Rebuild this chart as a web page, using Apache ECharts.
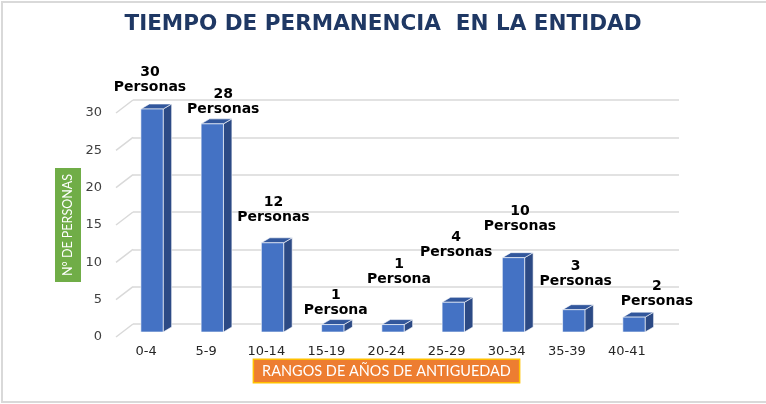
<!DOCTYPE html>
<html>
<head>
<meta charset="utf-8">
<script src="https://cdn.jsdelivr.net/npm/echarts@6/dist/echarts.min.js"></script>
<style>html,body{margin:0;padding:0;background:#fff}#chart{width:766px;height:404px}</style>
</head>
<body>
<div id="chart"></div>
<script>
const titleText = 'TIEMPO DE PERMANENCIA  EN LA ENTIDAD';
const categories = ['0-4', '5-9', '10-14', '15-19', '20-24', '25-29', '30-34', '35-39', '40-41'];
const personas = [30, 28, 12, 1, 1, 4, 10, 3, 2];
const yTicks = [0, 5, 10, 15, 20, 25, 30];
const xAxisName = 'RANGOS DE AÑOS DE ANTIGUEDAD';
const yAxisName = 'N° DE PERSONAS';

// label placement (pixel shifts relative to each bar's top centre), style only
const labelShift = [[-2, -29.5], [11, -22], [1, -32.5], [3, -22], [6, -52.5], [3, -57], [6.5, -38.5], [2, -35.5], [23, -23]];

const DX = 8.5, DY = -5;      // 3D depth of bars
const WALL_DX = 17, WALL_DY = -13; // depth of back wall

const chart = echarts.init(document.getElementById('chart'), null, {renderer: 'canvas'});

const option = {
  animation: false,
  backgroundColor: '#fff',
  title: {
    text: titleText,
    left: 'center',
    top: 13,
    padding: 0,
    textStyle: {fontFamily: 'DejaVu Sans', fontWeight: 'bold', fontSize: 21.5, color: '#1F3864'}
  },
  graphic: [{
    type: 'rect', silent: true, z: -10,
    shape: {x: 2, y: 2, width: 780, height: 400},
    style: {fill: 'none', stroke: '#D9D9D9', lineWidth: 2}
  }],
  grid: [
    {left: 121.9, right: 101.9, top: 109, bottom: 72},   // bars
    {left: 133, right: 87, top: 100, bottom: 80},          // back wall
    {left: 116, right: 109, top: 113, bottom: 67}          // front plane (labels)
  ],
  xAxis: [
    {gridIndex: 0, type: 'category', data: categories, show: false},
    {gridIndex: 1, type: 'category', data: categories, show: false},
    {gridIndex: 2, type: 'category', data: categories,
     axisLine: {show: false}, axisTick: {show: false},
     axisLabel: {margin: 8, fontFamily: 'DejaVu Sans', fontSize: 13, color: '#262626'},
     name: xAxisName, nameLocation: 'middle', nameGap: 23, nameMoveOverlap: false,
     nameTextStyle: {fontFamily: 'Lato', fontSize: 14.5, lineHeight: 17, color: '#fff', backgroundColor: '#ED7D31',
       borderColor: '#FFC000', borderWidth: 1.5, padding: [3, 8, 2, 8]}}
  ],
  yAxis: [
    {gridIndex: 0, type: 'value', min: 0, max: 30, interval: 5, show: false},
    {gridIndex: 1, type: 'value', min: 0, max: 30, interval: 5,
     axisLine: {show: false}, axisTick: {show: false}, axisLabel: {show: false},
     splitLine: {show: true, lineStyle: {color: '#D9D9D9', width: 1.5}}},
    {gridIndex: 2, type: 'value', min: 0, max: 30, interval: 5,
     axisLine: {show: false}, axisTick: {show: false}, splitLine: {show: false},
     axisLabel: {margin: 14, fontFamily: 'DejaVu Sans', fontSize: 13, color: '#404040'},
     name: yAxisName, nameLocation: 'middle', nameRotate: 90, nameGap: 35, nameMoveOverlap: false,
     nameTextStyle: {fontFamily: 'Lato', fontSize: 12.5, lineHeight: 14, color: '#fff', backgroundColor: '#70AD47',
       padding: [6, 6, 6, 6]}}
  ],
  series: [
    {
      type: 'custom', xAxisIndex: 2, yAxisIndex: 2, z: 1, silent: true,
      data: yTicks.map(t => [0, t]),
      renderItem: function (params, api) {
        const p = api.coord([0, api.value(1)]);
        const x0 = params.coordSys.x;
        return {type: 'line', shape: {x1: x0, y1: p[1], x2: x0 + WALL_DX, y2: p[1] + WALL_DY},
                style: {stroke: '#D9D9D9', lineWidth: 1.5}};
      }
    },
    {
      type: 'custom', xAxisIndex: 0, yAxisIndex: 0, z: 5,
      data: personas.map((v, i) => [i, v]),
      renderItem: function (params, api) {
        const i = api.value(0), v = api.value(1);
        const top = api.coord([i, v]);
        const base = api.coord([i, 0]);
        const band = api.size([1, 0])[0];
        const w = band * 0.37;
        const l = top[0] - w / 2, r = top[0] + w / 2, t = top[1], b = base[1];
        const sh = labelShift[i];
        return {
          type: 'group',
          children: [
            {type: 'polygon', shape: {points: [[r, t], [r + DX, t + DY], [r + DX, b + DY], [r, b]]},
             style: {fill: '#2C4A85', stroke: '#fff', lineWidth: 0.6}},
            {type: 'polygon', shape: {points: [[l, t], [r, t], [r + DX, t + DY], [l + DX, t + DY]]},
             style: {fill: '#32579C', stroke: '#fff', lineWidth: 0.6}},
            {type: 'rect', shape: {x: l, y: t, width: w, height: b - t},
             style: {fill: '#4472C4', stroke: '#fff', lineWidth: 0.6}},
            {type: 'text', x: top[0] + sh[0], y: t + sh[1],
             style: {text: v + '\n' + (v === 1 ? 'Persona' : 'Personas'), align: 'center', verticalAlign: 'middle',
               fontFamily: 'DejaVu Sans', fontWeight: 'bold', fontSize: 14, lineHeight: 15, fill: '#000'}}
          ]
        };
      }
    }
  ]
};
chart.setOption(option);
</script>
</body>
</html>
